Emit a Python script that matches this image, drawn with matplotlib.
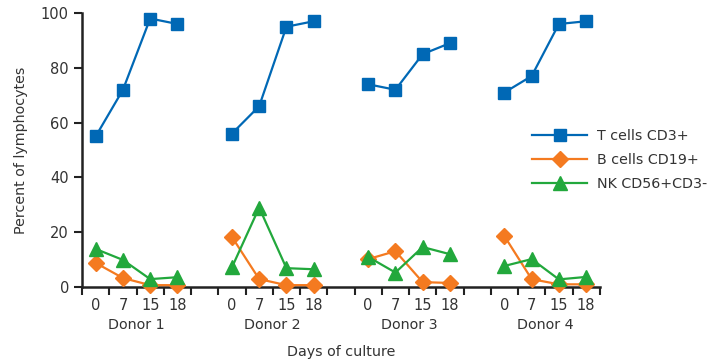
import numpy as np
import matplotlib.pyplot as plt
from matplotlib.transforms import blended_transform_factory

# Percent of lymphocytes per donor at each culture day
donors = ['Donor 1', 'Donor 2', 'Donor 3', 'Donor 4']
days = ['0', '7', '15', '18']

t_cells = [[55, 72, 98, 96],
           [56, 66, 95, 97],
           [74, 72, 85, 89],
           [71, 77, 96, 97]]
b_cells = [[8.8, 3.3, 0.7, 0.7],
           [18.3, 2.9, 0.7, 0.7],
           [10.2, 13.1, 1.8, 1.5],
           [18.6, 2.9, 1.0, 1.0]]
nk_cells = [[13.9, 9.9, 2.9, 3.6],
            [7.2, 29, 6.9, 6.5],
            [11, 5.3, 14.6, 12],
            [7.7, 10.2, 2.8, 3.7]]

series = [('T cells CD3+', t_cells, '#0068b5', 's', 9),
          ('B cells CD19+', b_cells, '#f47a20', 'D', 8.5),
          ('NK CD56+CD3-', nk_cells, '#22a83c', '^', 9.5)]

text_color = '#333333'
fs = 10.3
plt.rcParams['font.family'] = 'DejaVu Sans'

fig = plt.figure(figsize=(7.2, 3.62), dpi=100)
ax = fig.add_axes([0.114, 0.207, 0.719, 0.757])

for label, values, color, marker, ms in series:
    for k, vals in enumerate(values):
        x = 5 * k + 0.5 + np.arange(len(days))
        ax.plot(x, vals, color=color, marker=marker, markersize=ms, lw=1.6,
                clip_on=False, zorder=3, label=label if k == 0 else None)

ax.set_xlim(0, 19)
ax.set_ylim(0, 100)
ax.set_xticks(np.arange(0, 20))
ax.set_xticklabels([])
ax.set_yticks([0, 20, 40, 60, 80, 100])
ax.tick_params(axis='y', labelsize=10.5, colors='#222222', labelcolor=text_color,
               width=1.5, length=6)
ax.tick_params(axis='x', colors='#222222', width=1.5, length=6)
for side in ['top', 'right']:
    ax.spines[side].set_visible(False)
for side in ['left', 'bottom']:
    ax.spines[side].set_linewidth(1.8)
    ax.spines[side].set_color('#222222')

# Day labels under each point and donor names below them
trans = blended_transform_factory(ax.transData, ax.transAxes)
for k, donor in enumerate(donors):
    for j, d in enumerate(days):
        ax.text(5 * k + 0.5 + j, -0.068, d, transform=trans, ha='center', va='center',
                fontsize=10.5, color=text_color)
    ax.text(5 * k + 2, -0.14, donor, transform=trans, ha='center', va='center',
            fontsize=fs, color=text_color)

ax.set_xlabel('Days of culture', fontsize=fs, color=text_color, labelpad=32)
ax.set_ylabel('Percent of lymphocytes', fontsize=fs, color=text_color, labelpad=9)

ax.legend(loc='center left', bbox_to_anchor=(0.87, 0.463), frameon=False, fontsize=fs,
          handlelength=3.8, handletextpad=0.7, labelspacing=0.68, labelcolor=text_color,
          borderaxespad=0, borderpad=0)

fig.savefig('out.png', dpi=100)
